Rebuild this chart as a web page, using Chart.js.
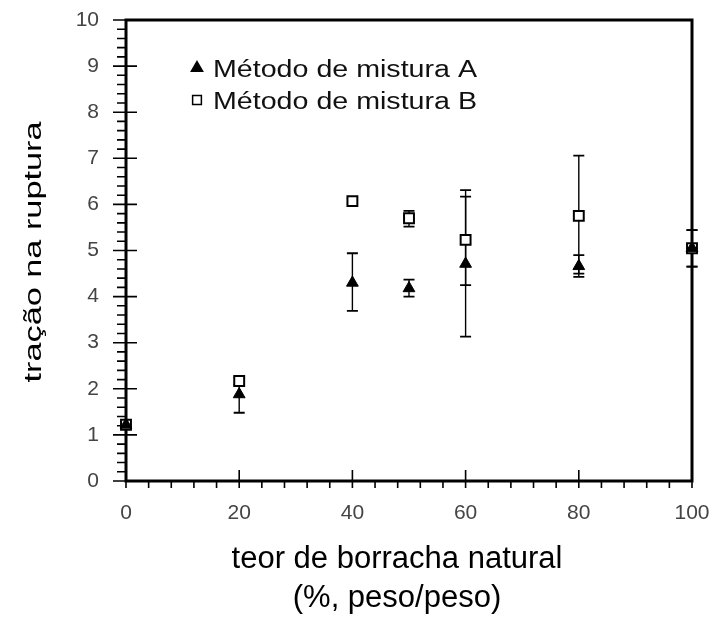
<!DOCTYPE html>
<html>
<head>
<meta charset="utf-8">
<script src="https://cdn.jsdelivr.net/npm/chart.js@4.4.1/dist/chart.umd.min.js"></script>
<style>
  body { margin: 0; background: #fff; }
  #wrap { width: 715px; height: 617px; }
</style>
</head>
<body>
<div id="wrap"><canvas id="chart" width="715" height="617"></canvas></div>
<script>
// teor de borracha natural (%)
var teor = [0, 20, 40, 50, 60, 80, 100];

// método de mistura A (triângulos)
var tracaoA = [1.22, 1.88, 4.30, 4.18, 4.71, 4.66, 5.05];
var tracaoA_min = [1.22, 1.48, 3.69, 4.00, 3.13, 4.43, 4.65];
var tracaoA_max = [1.22, 2.10, 4.94, 4.37, 6.17, 4.90, 5.44];

// método de mistura B (quadrados)
var tracaoB = [1.22, 2.17, 6.07, 5.70, 5.23, 5.75, 5.05];
var tracaoB_min = [1.22, 2.08, 6.01, 5.52, 4.25, 4.50, 4.65];
var tracaoB_max = [1.22, 2.25, 6.13, 5.86, 6.31, 7.06, 5.44];

var xTicks = [0, 20, 40, 60, 80, 100];
var yTicks = [0, 1, 2, 3, 4, 5, 6, 7, 8, 9, 10];

var FONT = '"Liberation Sans", Arial, sans-serif';

function pts(ys) {
  return teor.map(function (x, i) { return { x: x, y: ys[i] }; });
}

// frame, tick marks and error bars (under the markers)
var framePlugin = {
  id: "frame",
  beforeDatasetsDraw: function (chart) {
    var ctx = chart.ctx, a = chart.chartArea;
    var xs = chart.scales.x, ys = chart.scales.y;
    ctx.save();
    ctx.strokeStyle = "#000";
    ctx.lineWidth = 3;
    ctx.strokeRect(a.left, a.top, a.right - a.left, a.bottom - a.top);

    ctx.lineWidth = 1.6;
    ctx.beginPath();
    for (var i = 0; i <= 50; i++) {
      var py = ys.getPixelForValue(i / 5);
      if (i % 5 === 0) { ctx.moveTo(a.left - 13, py); ctx.lineTo(a.left + 11, py); }
      else { ctx.moveTo(a.left - 9, py); ctx.lineTo(a.left, py); }
    }
    for (var j = 0; j <= 25; j++) {
      var px = xs.getPixelForValue(j * 4);
      if (j % 5 === 0) { ctx.moveTo(px, a.bottom - 11); ctx.lineTo(px, a.bottom + 7); }
      else { ctx.moveTo(px, a.bottom); ctx.lineTo(px, a.bottom + 7); }
    }
    ctx.stroke();

    // error bars
    var bars = [[tracaoA_min, tracaoA_max], [tracaoB_min, tracaoB_max]];
    bars.forEach(function (b) {
      teor.forEach(function (x, k) {
        if (b[0][k] === b[1][k]) return;
        var px = xs.getPixelForValue(x);
        var lo = ys.getPixelForValue(b[0][k]), hi = ys.getPixelForValue(b[1][k]);
        ctx.lineWidth = 1.4;
        ctx.beginPath();
        ctx.moveTo(px, lo); ctx.lineTo(px, hi);
        ctx.stroke();
        ctx.lineWidth = 1.8;
        ctx.beginPath();
        ctx.moveTo(px - 5.5, lo); ctx.lineTo(px + 5.5, lo);
        ctx.moveTo(px - 5.5, hi); ctx.lineTo(px + 5.5, hi);
        ctx.stroke();
      });
    });
    ctx.restore();
  },
  afterDraw: function (chart) {
    var ctx = chart.ctx;
    ctx.save();
    ctx.fillStyle = "#000";

    // y title, drawn stretched along its length like the original scan
    ctx.font = "23px " + FONT;
    ctx.textAlign = "center";
    ctx.textBaseline = "alphabetic";
    var yt = "tração na ruptura";
    var s = 261 / ctx.measureText(yt).width;
    ctx.save();
    ctx.translate(41, 252);
    ctx.rotate(-Math.PI / 2);
    ctx.scale(s, 1);
    ctx.fillText(yt, 0, 0);
    ctx.restore();

    // x title
    ctx.font = "31px " + FONT;
    ctx.fillText("teor de borracha natural", 397, 568);
    ctx.fillText("(%, peso/peso)", 397, 607);

    // legend
    var ds = chart.data.datasets;
    var rows = [77, 109];
    ds.forEach(function (d, i) {
      ctx.fillStyle = d.backgroundColor;
      ctx.strokeStyle = d.borderColor;
      ctx.lineWidth = 1.5;
      Chart.helpers.drawPoint(ctx, {
        pointStyle: d.pointStyle, radius: i === 0 ? 6.5 : 6.2, rotation: 0, borderWidth: 1.5
      }, 197, rows[i] - 9);
      ctx.fillStyle = "#111";
      ctx.font = "23px " + FONT;
      ctx.textAlign = "left";
      ctx.save();
      ctx.translate(213, rows[i]);
      ctx.scale(264 / ctx.measureText(ds[0].label).width, 1);
      ctx.fillText(d.label, 0, 0);
      ctx.restore();
    });
    ctx.restore();
  }
};

var myChart = new Chart(document.getElementById("chart"), {
  type: "scatter",
  data: {
    datasets: [
      {
        label: "Método de mistura A",
        data: pts(tracaoA),
        pointStyle: "triangle",
        pointRadius: 6.8,
        backgroundColor: "#000",
        borderColor: "#000",
        borderWidth: 1,
        clip: false
      },
      {
        label: "Método de mistura B",
        data: pts(tracaoB),
        pointStyle: "rect",
        pointRadius: 7,
        backgroundColor: "#fff",
        borderColor: "#000",
        borderWidth: 2,
        clip: false
      }
    ]
  },
  options: {
    responsive: false,
    animation: false,
    events: [],
    layout: { padding: { top: 20, right: 23, left: 0, bottom: 0 } },
    plugins: { legend: { display: false }, tooltip: { enabled: false } },
    scales: {
      x: {
        type: "linear",
        min: 0,
        max: 100,
        afterBuildTicks: function (scale) {
          scale.ticks = xTicks.map(function (v) { return { value: v }; });
        },
        afterFit: function (scale) {
          scale.height = 136;
          scale.paddingLeft = 0;
          scale.paddingRight = 0;
        },
        grid: { display: false, drawTicks: false },
        border: { display: false },
        ticks: { padding: 20, color: "#444", font: { size: 21, family: FONT } }
      },
      y: {
        type: "linear",
        min: 0,
        max: 10,
        afterBuildTicks: function (scale) {
          scale.ticks = yTicks.map(function (v) { return { value: v }; });
        },
        afterFit: function (scale) {
          scale.width = 126;
          scale.paddingTop = 0;
          scale.paddingBottom = 0;
        },
        grid: { display: false, drawTicks: false },
        border: { display: false },
        ticks: { padding: 27, color: "#444", font: { size: 21, family: FONT } }
      }
    }
  },
  plugins: [framePlugin]
});
</script>
</body>
</html>
